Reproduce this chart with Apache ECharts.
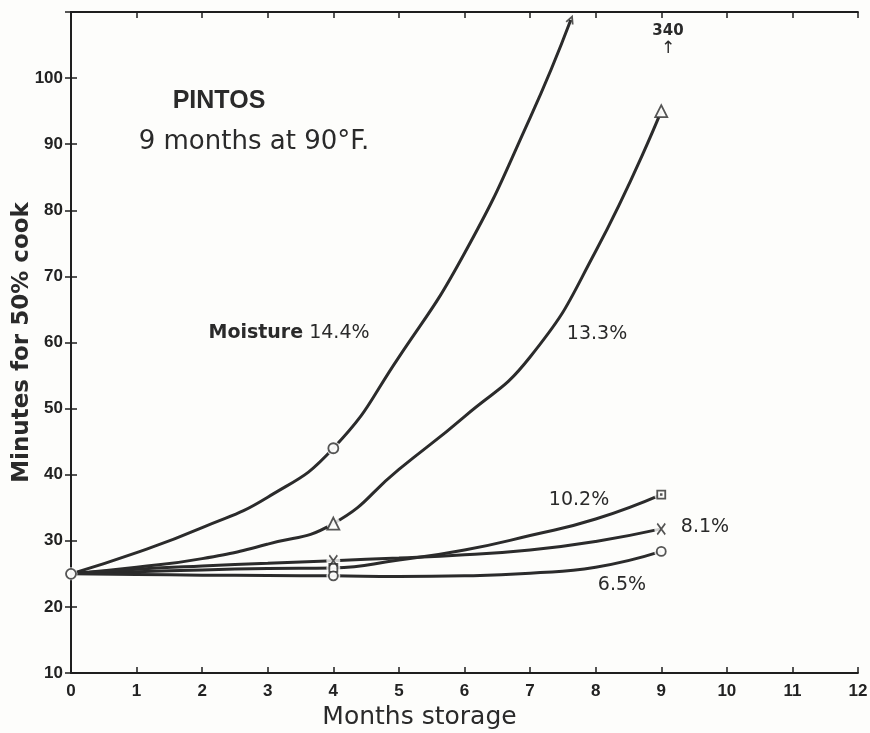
<!DOCTYPE html>
<html>
<head>
<meta charset="utf-8">
<script src="https://cdn.jsdelivr.net/npm/echarts@6/dist/echarts.min.js"></script>
<style>
html,body{margin:0;padding:0;background:#fdfdfb;}
#chart{width:870px;height:733px;}
</style>
</head>
<body>
<div id="chart"></div>
<script>
// ---- data ----
const xTicks = [0,1,2,3,4,5,6,7,8,9,10,11,12];
const yTicks = [10,20,30,40,50,60,70,80,90,100];
// curve readings [month, minutes]
const m144 = [[0,25],[1,28.2],[2,32],[3,36.6],[4,44],[5,57.8],[6,73.5],[7,94],[7.62,108.8]];
const m133 = [[0,25],[1,26],[2,27.3],[3,29.5],[4,32.6],[5,40.8],[6,48.8],[7,57.8],[8,73.8],[9,95]];
const m102 = [[0,25],[1,25.3],[2,25.6],[3,25.8],[4,25.9],[5,27.1],[6,28.6],[7,30.8],[8,33.3],[9,37]];
const m081 = [[0,25],[1,25.7],[2,26.2],[3,26.6],[4,27],[5,27.4],[6,27.9],[7,28.6],[8,29.9],[9,31.8]];
const m065 = [[0,25],[1,24.9],[2,24.8],[3,24.75],[4,24.7],[5,24.6],[6,24.7],[7,25.1],[8,26],[9,28.4]];
const observedMonths = [4, 9];
const seriesLabels = ['Moisture 14.4%','13.3%','10.2%','8.1%','6.5%'];

const INK = '#2b2b2b';
const FONT = 'Liberation Sans';
const WFONT = 'DejaVu Sans';
const xMark = 'path://M0,0 L10,14 M10,0 L0,14';

function obs(arr){ return arr.filter(p => observedMonths.indexOf(p[0]) >= 0); }

const lineDefs = [
  {data:m144, sym:'circle', size:10},
  {data:m133, sym:'triangle', size:12},
  {data:m102, sym:'rect', size:8},
  {data:m081, sym:xMark, size:[8,11]},
  {data:m065, sym:'circle', size:9}
];

const series = [];
lineDefs.forEach((d,i) => {
  series.push({
    type:'line', name:seriesLabels[i], data:d.data, smooth:0.5, symbol:'none',
    lineStyle:{color:INK, width:3}, z:2, silent:true
  });
});
// white halos around observed points (gaps in the lines)
lineDefs.forEach((d,i) => {
  series.push({
    type:'scatter', data:obs(d.data), symbol:'circle',
    symbolSize: 14, itemStyle:{color:'#fdfdfb'}, z:3, silent:true
  });
});
series.push({type:'scatter', data:[m144[0]], symbol:'circle', symbolSize:13, itemStyle:{color:'#fdfdfb'}, z:3, silent:true});
// markers
lineDefs.forEach((d,i) => {
  series.push({
    type:'scatter', data:obs(d.data), symbol:d.sym, symbolSize:d.size,
    itemStyle:{color: d.sym===xMark ? 'rgba(0,0,0,0)' : '#fdfdfb', borderColor:INK, borderWidth:1.8}, z:4, silent:true
  });
});
series.push({type:'scatter', data:obs(m102).slice(1), symbol:'rect', symbolSize:2.5, itemStyle:{color:INK}, z:5, silent:true});
series.push({type:'scatter', data:[m144[0]], symbol:'circle', symbolSize:10, itemStyle:{color:'#fdfdfb', borderColor:INK, borderWidth:1.8}, z:5, silent:true});
series.push({type:'scatter', data:[m144[m144.length-1]], symbol:'path://M0,10 L5,0 L10,10', symbolSize:[7,7], symbolRotate:-22,
  itemStyle:{color:'rgba(0,0,0,0)', borderColor:INK, borderWidth:1.8}, z:5, silent:true});

const chart = echarts.init(document.getElementById('chart'));
const axisLine = {show:true, lineStyle:{color:'#1e1e1e', width:1.8}};
const tick = {show:true, inside:false, length:-6, lineStyle:{color:'#1e1e1e', width:1.5}};
chart.setOption({
  backgroundColor:'#fdfdfb',
  animation:false,
  grid:{left:71, right:12, top:12, bottom:60, containLabel:false, outerBoundsMode:'none'},
  xAxis:[{
    type:'value', min:0, max:12, interval:1,
    axisLine:axisLine, axisTick:tick, splitLine:{show:false},
    axisLabel:{fontFamily:FONT, fontWeight:'bold', fontSize:17, color:'#222', margin:10},
    name:'Months storage', nameLocation:'middle', nameGap:32,
    nameTextStyle:{fontFamily:WFONT, fontSize:25, color:'#2a2a2a', padding:[0,90,0,0]}
  },{
    type:'value', min:0, max:12, interval:1, position:'top',
    axisLine:axisLine, axisTick:tick, splitLine:{show:false}, axisLabel:{show:false}
  }],
  yAxis:[{
    type:'value', min:10, max:110, interval:10,
    axisLine:axisLine, axisTick:tick, splitLine:{show:false},
    axisLabel:{fontFamily:FONT, fontWeight:'bold', fontSize:17, color:'#222', margin:8,
      formatter: v => (yTicks.indexOf(v) >= 0 ? String(v) : '')},
    name:'Minutes for 50% cook', nameLocation:'middle', nameGap:37, nameMoveOverlap:false,
    nameTextStyle:{fontFamily:WFONT, fontSize:23, fontWeight:'bold', color:'#2a2a2a'}
  },{
    type:'value', min:10, max:110, interval:10, position:'right',
    axisLine:axisLine, axisTick:tick, splitLine:{show:false}, axisLabel:{show:false}
  }],
  series: series,
  graphic:[
    {type:'text', x:219, y:101, style:{text:'PINTOS', fontFamily:FONT, fontSize:25, fontWeight:'bold', fill:'#2a2a2a', align:'center', verticalAlign:'middle'}},
    {type:'text', x:254, y:142, style:{text:'9 months at 90°F.', fontFamily:WFONT, fontSize:26, fill:'#2a2a2a', align:'center', verticalAlign:'middle'}},
    {type:'text', x:289, y:333, style:{text:'{b|Moisture} 14.4%', fontFamily:WFONT, fontSize:19, fill:'#2a2a2a', align:'center', verticalAlign:'middle',
      rich:{b:{fontFamily:WFONT, fontSize:19, fontWeight:'bold', fill:'#2a2a2a'}}}},
    {type:'text', x:597, y:334, style:{text:'13.3%', fontFamily:WFONT, fontSize:19, fill:'#2a2a2a', align:'center', verticalAlign:'middle'}},
    {type:'text', x:579, y:500, style:{text:'10.2%', fontFamily:WFONT, fontSize:19, fill:'#2a2a2a', align:'center', verticalAlign:'middle'}},
    {type:'text', x:705, y:527, style:{text:'8.1%', fontFamily:WFONT, fontSize:19, fill:'#2a2a2a', align:'center', verticalAlign:'middle'}},
    {type:'text', x:622, y:585, style:{text:'6.5%', fontFamily:WFONT, fontSize:19, fill:'#2a2a2a', align:'center', verticalAlign:'middle'}},
    {type:'text', x:668, y:31, style:{text:'340', fontFamily:WFONT, fontSize:15, fontWeight:'bold', fill:'#2a2a2a', align:'center', verticalAlign:'middle'}},
    {type:'text', x:668, y:49, style:{text:'↑', fontFamily:WFONT, fontSize:17, fill:'#2a2a2a', align:'center', verticalAlign:'middle'}}
  ]
});
</script>
</body>
</html>
